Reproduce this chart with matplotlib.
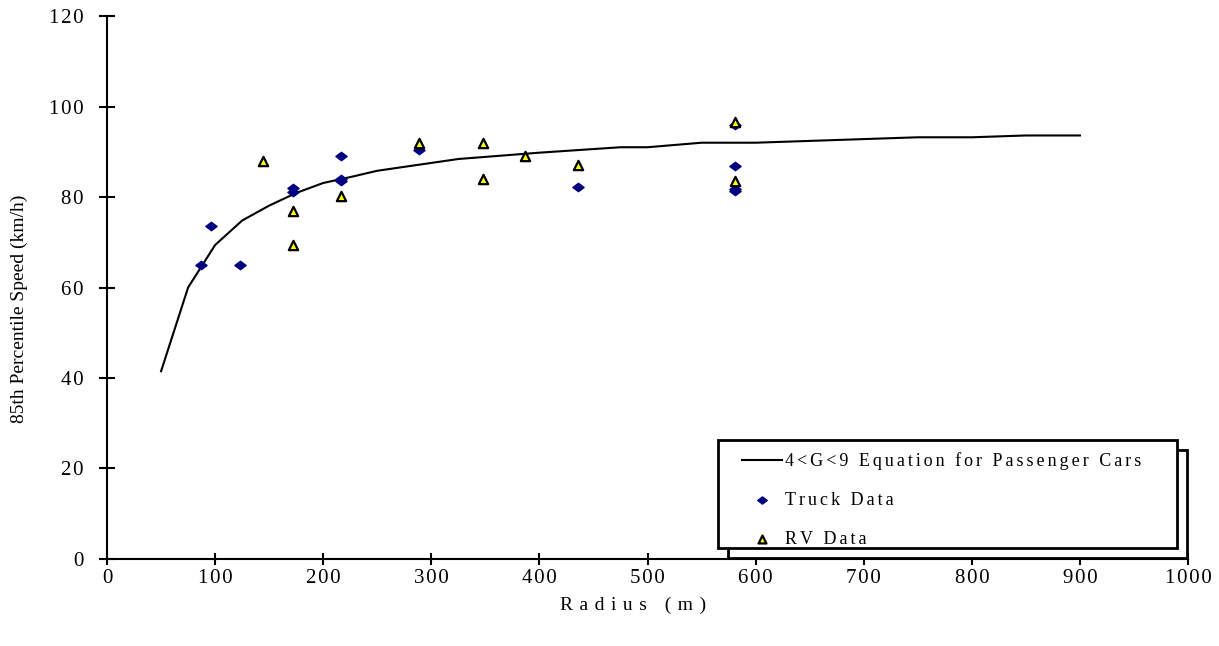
import matplotlib.pyplot as plt
from matplotlib.path import Path
from matplotlib.patches import Rectangle

plt.rcParams['font.family'] = ['Liberation Serif', 'DejaVu Serif']

# equation curve for passenger cars
eq_radius = [50, 75, 100, 125, 150, 175, 200, 225, 250, 325, 400, 475, 500, 550, 600, 750, 800, 850, 900]
eq_speed = [41.5, 60.0, 69.4, 74.8, 78.1, 80.9, 83.1, 84.4, 85.8, 88.4, 89.8, 91.0, 91.0, 92.0, 92.0, 93.2, 93.2, 93.6, 93.6]

# truck observations
truck_radius = [87, 96, 123, 172, 172, 216, 216, 216, 289, 436, 581, 581, 581, 581]
truck_speed = [65.0, 73.6, 65.0, 82.1, 81.2, 89.1, 84.0, 83.5, 90.4, 82.3, 95.9, 86.9, 81.4, 81.7]

# RV observations
rv_radius = [144, 172, 172, 216, 289, 348, 348, 387, 436, 581, 581]
rv_speed = [88.0, 76.9, 69.4, 80.2, 91.9, 91.9, 84.0, 89.1, 87.1, 96.6, 83.5]

x_ticks = list(range(0, 1001, 100))
y_ticks = list(range(0, 121, 20))


def track(s, sp):
    # fake letter spacing by putting a narrow space between characters
    return sp.join(s)


# flat diamond like the original marker
diamond = Path([(0, 0.75), (1, 0), (0, -0.75), (-1, 0), (0, 0.75)],
               [Path.MOVETO, Path.LINETO, Path.LINETO, Path.LINETO, Path.CLOSEPOLY])

fig = plt.figure(figsize=(12.19, 6.46), dpi=100)
ax = fig.add_axes([0.0878, 0.1347, 0.8868, 0.8405])

ax.plot(eq_radius, eq_speed, color='black', lw=1.5,
        label=track('4<G<9 Equation for Passenger Cars', '\u2006'))
ax.scatter(truck_radius, truck_speed, marker=diamond, s=65, color='#000080',
           label=track('Truck Data', '\u2006'), zorder=3)
ax.scatter(rv_radius, rv_speed, marker='^', s=45, facecolor='#ffff00', edgecolor='black',
           linewidth=1.6, label=track('RV Data', '\u2006'), zorder=4)

ax.set_xlim(0, 1000)
ax.set_ylim(0, 120)
ax.set_xticks(x_ticks)
ax.set_xticklabels([track(str(v), '\u200a') for v in x_ticks])
ax.set_yticks(y_ticks)
ax.set_yticklabels([track(str(v), '\u200a') for v in y_ticks])
ax.spines['top'].set_visible(False)
ax.spines['right'].set_visible(False)
ax.spines['left'].set_linewidth(1.5)
ax.spines['bottom'].set_linewidth(1.5)
ax.tick_params(axis='y', direction='inout', length=11.5, width=1.5, labelsize=15, pad=11)
ax.tick_params(axis='x', direction='inout', length=9, width=1.5, labelsize=15, pad=3)

ax.set_xlabel(track('Radius (m)', '\u2004'), fontsize=14)
ax.xaxis.set_label_coords(0.4866, -0.07)
ax.set_ylabel('85th Percentile Speed (km/h)', fontsize=14)
ax.yaxis.set_label_coords(-0.073, 0.46)

# legend box with an offset shadow frame, drawn by hand to get the padding right
ax.add_patch(Rectangle((0.5745, 0.0018), 0.4246, 0.1989, transform=ax.transAxes,
                       facecolor='white', edgecolor='black', lw=2, zorder=5, clip_on=False))
ax.add_patch(Rectangle((0.5652, 0.0203), 0.4246, 0.1989, transform=ax.transAxes,
                       facecolor='white', edgecolor='black', lw=2, zorder=5, clip_on=False))

leg = ax.legend(loc='upper left', bbox_to_anchor=(0.5874, 0.196), frameon=False,
                fontsize=13, handlelength=2.2, handletextpad=0.2, labelspacing=1.2,
                borderpad=0, borderaxespad=0, markerscale=0.85)
leg.set_zorder(6)

plt.savefig('out.png', dpi=100)
